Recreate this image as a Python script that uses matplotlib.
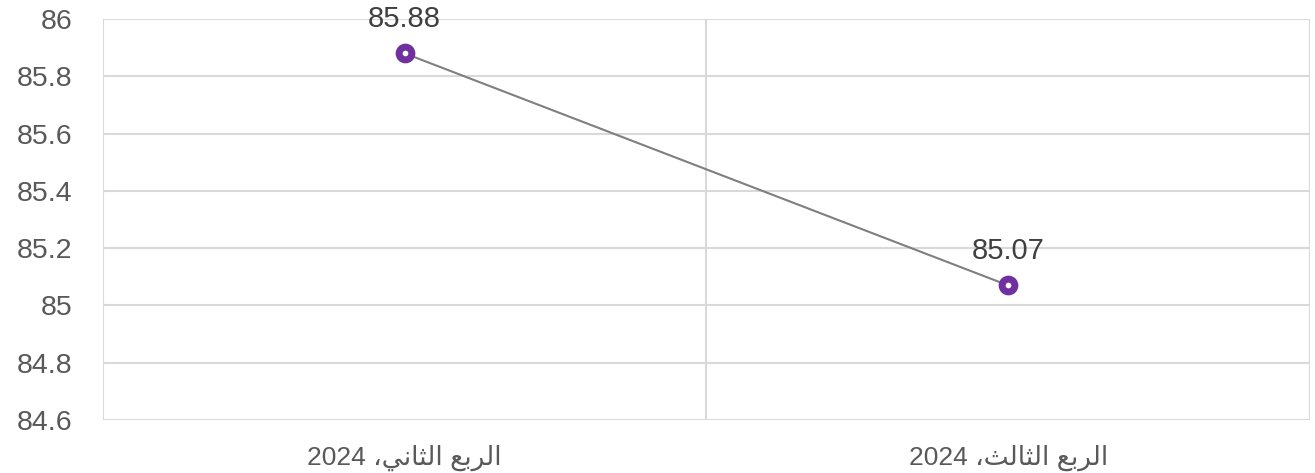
import matplotlib.pyplot as plt
import numpy as np
from matplotlib.ticker import FixedLocator

# data
categories = ["الربع الثاني، 2024", "الربع الثالث، 2024"]
values = [85.88, 85.07]
yticks = [84.6, 84.8, 85.0, 85.2, 85.4, 85.6, 85.8, 86.0]
ytick_labels = ["84.6", "84.8", "85", "85.2", "85.4", "85.6", "85.8", "86"]

# minimal arabic shaping (iso, fin, ini, med) for the letters used
FORMS = {
    "ا": ("\uFE8D", "\uFE8E", None, None),
    "ر": ("\uFEAD", "\uFEAE", None, None),
    "ل": ("\uFEDD", "\uFEDE", "\uFEDF", "\uFEE0"),
    "ب": ("\uFE8F", "\uFE90", "\uFE91", "\uFE92"),
    "ع": ("\uFEC9", "\uFECA", "\uFECB", "\uFECC"),
    "ث": ("\uFE99", "\uFE9A", "\uFE9B", "\uFE9C"),
    "ن": ("\uFEE5", "\uFEE6", "\uFEE7", "\uFEE8"),
    "ي": ("\uFEF1", "\uFEF2", "\uFEF3", "\uFEF4"),
}

def shape(s):
    out = []
    for i, c in enumerate(s):
        if c not in FORMS:
            out.append(c)
            continue
        prev = s[i-1] if i > 0 else ""
        nxt = s[i+1] if i+1 < len(s) else ""
        pj = prev in FORMS and FORMS[prev][2] is not None
        nj = nxt in FORMS and FORMS[c][2] is not None
        iso, fin, ini, med = FORMS[c]
        if pj and nj:
            out.append(med)
        elif pj:
            out.append(fin)
        elif nj:
            out.append(ini)
        else:
            out.append(iso)
    r = "".join(out)[::-1]
    # put digit runs back in order
    res, run = "", ""
    for c in r:
        if c.isdigit():
            run += c
        else:
            res += run[::-1] + c
            run = ""
    return res + run[::-1]

plt.rcParams['font.family'] = ['Liberation Sans', 'DejaVu Sans']

fig = plt.figure(figsize=(13.15, 4.73), dpi=100)
ax = fig.add_axes([0.0783, 0.112, 0.9179, 0.8478])

x = np.arange(len(categories))
ax.plot(x, values, color="#7f7f7f", lw=1.5, zorder=3)
ax.plot(x, values, "o", ms=9.2, mew=5, mec="#7030A0", mfc="white", zorder=4)
for xi, v in zip(x, values):
    ax.annotate("%.2f" % v, (xi, v), xytext=(0, 25), textcoords="offset points",
                ha="center", va="center", fontsize=21, color="#404040")

ax.set_xlim(-0.5, len(categories) - 0.5)
ax.set_ylim(84.6, 86.0)
ax.set_yticks(yticks)
ax.set_yticklabels(ytick_labels)
ax.set_xticks(x)
ax.set_xticklabels([shape(c) for c in categories])
ax.xaxis.set_minor_locator(FixedLocator(np.arange(-0.5, len(categories), 1.0)))

ax.tick_params(axis="y", length=0, pad=22, labelsize=20.5, labelcolor="#595959")
ax.tick_params(axis="x", which="major", length=0, pad=18, labelsize=19, labelcolor="#595959")
ax.tick_params(axis="x", which="minor", length=0)
ax.grid(axis="y", color="#d9d9d9", lw=1.5)
ax.grid(axis="x", which="minor", color="#d9d9d9", lw=1.5)
ax.grid(axis="x", which="major", visible=False)
for s in ax.spines.values():
    s.set_visible(False)
ax.set_axisbelow(True)

plt.savefig("out.png", dpi=100)
